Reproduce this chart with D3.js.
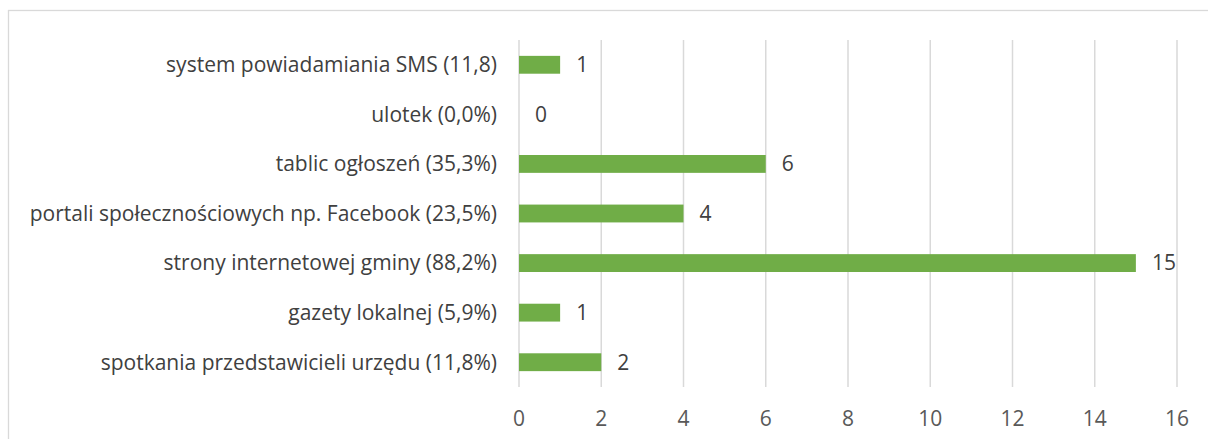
<!DOCTYPE html>
<html>
<head>
<meta charset="utf-8">
<script src="https://cdn.jsdelivr.net/npm/d3@7"></script>
<style>
    body { margin: 0; background: #ffffff; }
    svg { display: block; }
</style>
</head>
<body>
<div id="chart"></div>
<script>
// Categories top to bottom, as shown in the chart
const categories = [
    "system powiadamiania SMS (11,8)",
    "ulotek (0,0%)",
    "tablic ogłoszeń (35,3%)",
    "portali społecznościowych np. Facebook (23,5%)",
    "strony internetowej gminy (88,2%)",
    "gazety lokalnej (5,9%)",
    "spotkania przedstawicieli urzędu (11,8%)"
]
const counts = [1, 0, 6, 4, 15, 1, 2]
const xTicks = [0, 2, 4, 6, 8, 10, 12, 14, 16]

const width = 1208
const height = 439
const margin = { top: 40, right: 31, bottom: 52, left: 519 }
const fontFamily = "'Open Sans', 'Noto Sans', sans-serif"
const fontSize = 21

const svg = d3.select("#chart").append("svg")
    .attr("width", width)
    .attr("height", height)

// outer chart border
svg.append("rect")
    .attr("x", 8.5)
    .attr("y", 10.5)
    .attr("width", width + 20)
    .attr("height", height + 20)
    .attr("fill", "none")
    .attr("stroke", "#d9d9d9")
    .attr("stroke-width", 1.3)

const x = d3.scaleLinear()
    .domain([0, 16])
    .range([margin.left, width - margin.right])

const y = d3.scaleBand()
    .domain(categories)
    .range([margin.top, height - margin.bottom])
    .paddingInner(0.64)
    .paddingOuter(0.32)

// vertical gridlines
svg.append("g")
    .selectAll("line")
    .data(xTicks)
    .join("line")
        .attr("x1", d => x(d))
        .attr("x2", d => x(d))
        .attr("y1", margin.top)
        .attr("y2", height - margin.bottom)
        .attr("stroke", "#d9d9d9")
        .attr("stroke-width", 1.5)

// x tick labels
svg.append("g")
    .selectAll("text")
    .data(xTicks)
    .join("text")
        .attr("x", d => x(d))
        .attr("y", height - margin.bottom + 39)
        .attr("text-anchor", "middle")
        .attr("font-family", fontFamily)
        .attr("font-size", fontSize)
        .attr("fill", "#595959")
        .text(d => d)

// bars
svg.append("g")
    .selectAll("rect")
    .data(counts)
    .join("rect")
        .attr("x", x(0))
        .attr("y", (d, i) => y(categories[i]))
        .attr("width", d => x(d) - x(0))
        .attr("height", y.bandwidth())
        .attr("fill", "#70ad47")

// value labels
svg.append("g")
    .selectAll("text")
    .data(counts)
    .join("text")
        .attr("x", d => x(d) + 16)
        .attr("y", (d, i) => y(categories[i]) + y.bandwidth() / 2)
        .attr("dy", "0.35em")
        .attr("font-family", fontFamily)
        .attr("font-size", fontSize)
        .attr("fill", "#404040")
        .text(d => d)

// category labels
svg.append("g")
    .selectAll("text")
    .data(categories)
    .join("text")
        .attr("x", margin.left - 22)
        .attr("y", d => y(d) + y.bandwidth() / 2)
        .attr("dy", "0.35em")
        .attr("text-anchor", "end")
        .attr("font-family", fontFamily)
        .attr("font-size", fontSize)
        .attr("fill", "#404040")
        .text(d => d)
</script>
</body>
</html>
